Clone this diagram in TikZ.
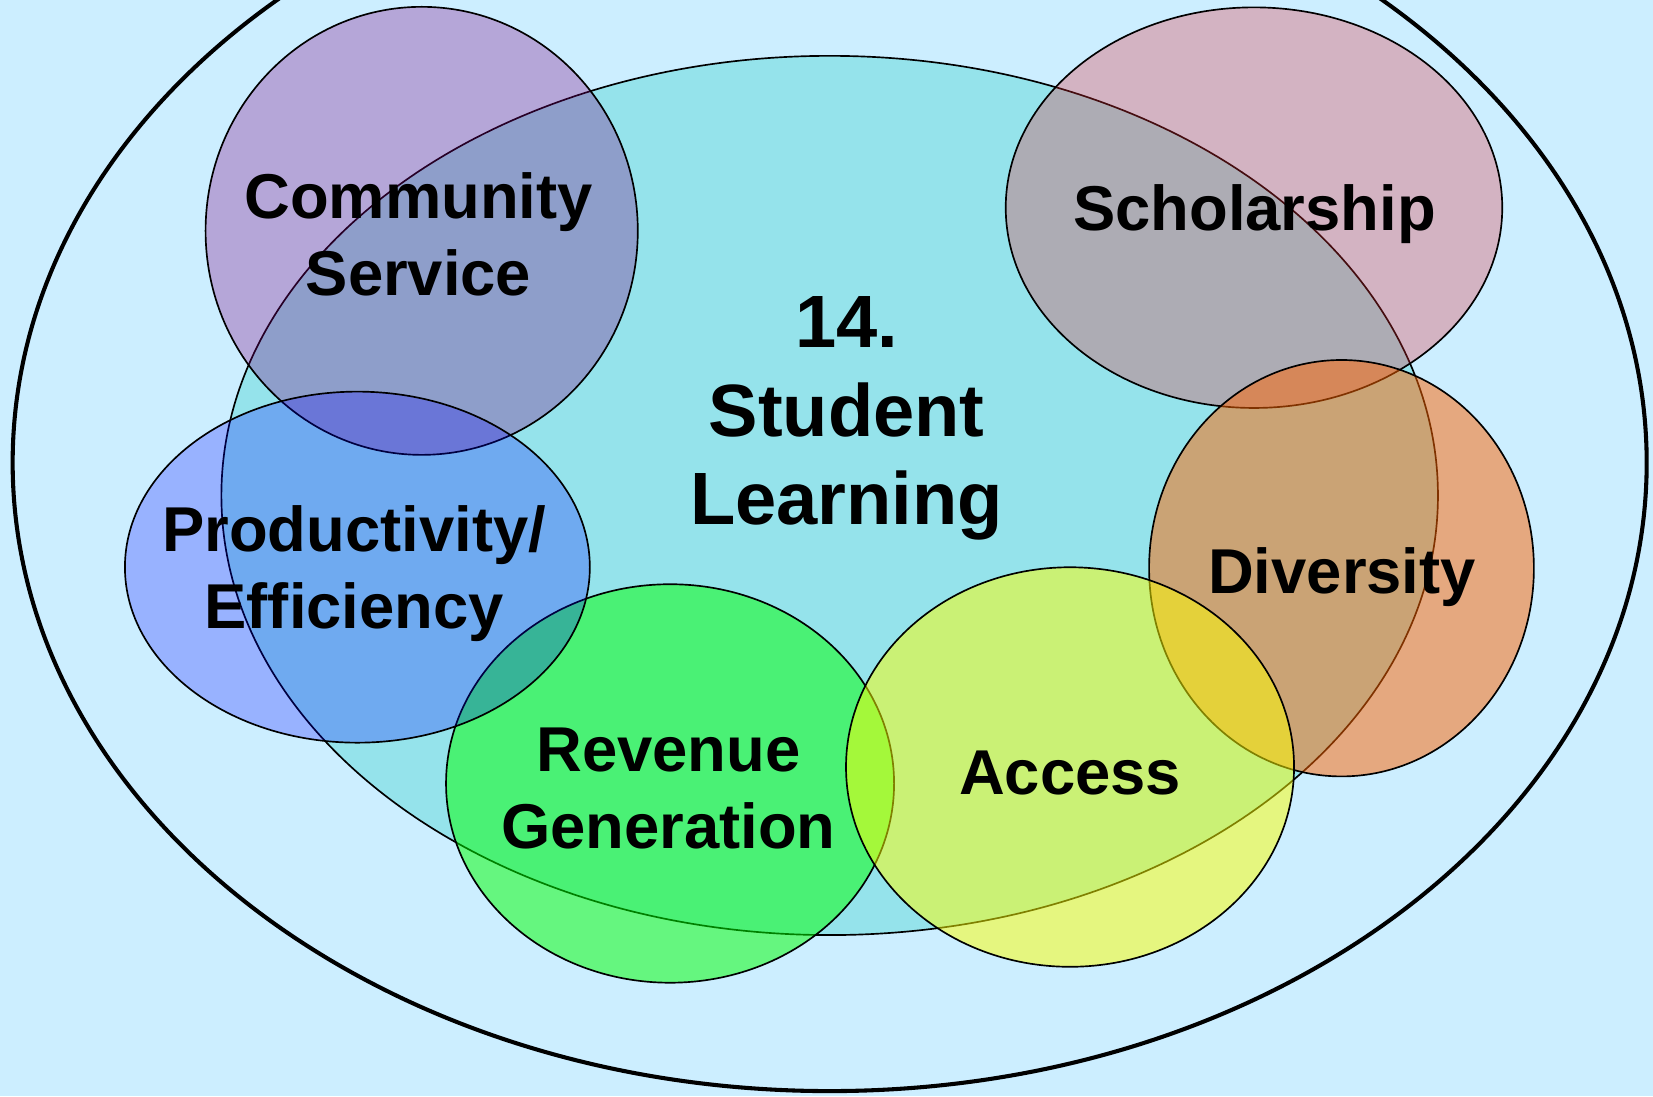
\documentclass[tikz,border=0pt]{standalone}
\usepackage{fontspec}
\setmainfont{Liberation Sans}
\usetikzlibrary{shapes}

\definecolor{bgblue}{HTML}{CCEEFF}
\definecolor{learncyan}{HTML}{95E3EB}
\definecolor{servpurple}{RGB}{128,0,128}
\definecolor{scholred}{RGB}{230,45,55}
\definecolor{divorange}{RGB}{255,100,0}
\definecolor{revgreen}{RGB}{0,255,0}
\definecolor{prodblue}{RGB}{0,0,255}
\definecolor{accyellow}{RGB}{255,255,0}

\begin{document}
\begin{tikzpicture}
  \tikzstyle{area}=[ellipse,draw=black,line width=0.45pt,inner sep=0pt]
  \tikzstyle{lbl}=[align=center,font=\fontsize{17.1}{20.8}\selectfont\bfseries]
  \useasboundingbox (0,0) rectangle (15.68,10.40);
  \fill [bgblue] (0,0) rectangle (15.68,10.40);
  \clip (0,0) rectangle (15.68,10.40);
  % outer ring and the central area
  \node [ellipse,draw,line width=1.1pt,minimum width=15.5cm,minimum height=11.92cm] (outer) at (7.87,6.01) {};
  \node [area,fill=learncyan,minimum width=11.54cm,minimum height=8.34cm] (learning) at (7.87,5.70) {};
  % the six overlapping areas
  \node [area,fill=servpurple,fill opacity=0.3,minimum width=4.10cm,minimum height=4.25cm] (service) at (4.00,8.21) {};
  \node [area,fill=scholred,fill opacity=0.3,minimum width=4.71cm,minimum height=3.80cm] (scholarship) at (11.895,8.43) {};
  \node [area,fill=divorange,fill opacity=0.5,minimum width=3.65cm,minimum height=3.95cm] (diversity) at (12.725,5.01) {};
  \node [area,fill=revgreen,fill opacity=0.5,minimum width=4.25cm,minimum height=3.78cm] (revenue) at (6.356,2.968) {};
  \node [area,fill=prodblue,fill opacity=0.25,minimum width=4.41cm,minimum height=3.33cm] (productivity) at (3.39,5.02) {};
  \node [area,fill=accyellow,fill opacity=0.5,minimum width=4.25cm,minimum height=3.79cm] (access) at (10.15,3.124) {};
  % labels
  \node [lbl,font=\fontsize{20}{23.8}\selectfont\bfseries] (learninglbl) at (8.03,6.43) {14.\\Student\\Learning};
  \node [lbl] (servicelbl) at (3.97,8.18) {Community\\Service};
  \node [lbl] (scholarshiplbl) at (11.90,8.37) {Scholarship};
  \node [lbl] (productivitylbl) at (3.36,4.96) {Productivity/\\Efficiency};
  \node [lbl] (diversitylbl) at (12.73,4.93) {Diversity};
  \node [lbl] (revenuelbl) at (6.34,2.92) {Revenue\\Generation};
  \node [lbl] (accesslbl) at (10.15,3.07) {Access};
\end{tikzpicture}
\end{document}
